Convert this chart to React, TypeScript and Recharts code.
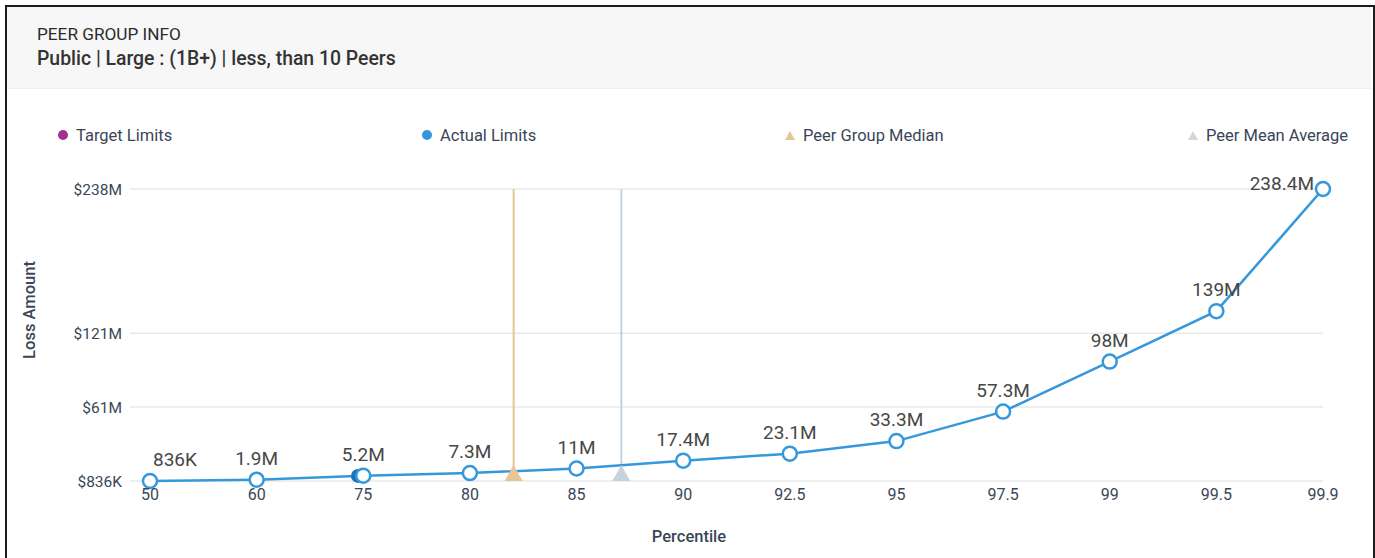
import React from "react";
import {
  ComposedChart,
  Line,
  Scatter,
  XAxis,
  YAxis,
  CartesianGrid,
  ReferenceLine,
  LabelList,
} from "recharts";

const percentiles = ["50", "60", "75", "80", "85", "90", "92.5", "95", "97.5", "99", "99.5", "99.9"];
const lossValues = [
  836000, 1900000, 5200000, 7300000, 11000000, 17400000, 23100000, 33300000, 57300000, 98000000,
  139000000, 238400000,
];
const yTicks = [836000, 61000000, 121000000, 238400000];

// positions on the percentile index scale (0 = 50th ... 11 = 99.9th)
const actualLimits = [{ pos: 1.95, value: 5000000 }];
const peerMedian = [{ pos: 3.41, value: 836000 }];
const peerMean = [{ pos: 4.42, value: 836000 }];

const BLUE = "#3598db";
const TAN = "#e6c697";
const GREYBLUE = "#c6d3df";
const TEXT = "#3a4657";

const rows = lossValues.map((value, i) => ({ pos: i, value }));

function shortValue(v: number) {
  if (v < 1e6) return `${Math.round(v / 1000)}K`;
  return `${+(v / 1e6).toFixed(1)}M`;
}

function yTick(v: number) {
  if (v < 1e6) return `$${Math.round(v / 1000)}K`;
  return `$${Math.round(v / 1e6)}M`;
}

function PointLabel(props: any) {
  const { x, y, value, index } = props;
  const last = index === lossValues.length - 1;
  let anchor: "middle" | "start" | "end" = "middle";
  let tx = x;
  let ty = y - 15;
  if (index === 0) {
    anchor = "start";
    tx = x + 3;
  }
  if (last) {
    anchor = "end";
    tx = x - 9;
    ty = y + 1;
  }
  return (
    <text x={tx} y={ty} textAnchor={anchor} fontSize={19} fill="#474747" fontFamily="Roboto">
      {shortValue(value)}
    </text>
  );
}

function triangle(color: string) {
  return (p: any) => (
    <polygon
      points={`${p.cx - 9},${p.cy} ${p.cx + 9},${p.cy} ${p.cx},${p.cy - 16}`}
      fill={color}
    />
  );
}

function LegendItem({ x, kind, color, label }: { x: number; kind: "dot" | "tri"; color: string; label: string }) {
  return (
    <div style={{ position: "absolute", left: x, top: 125, height: 20, display: "flex", alignItems: "center" }}>
      {kind === "dot" ? (
        <span style={{ width: 10, height: 10, borderRadius: 5, background: color, display: "inline-block" }} />
      ) : (
        <span
          style={{
            width: 0,
            height: 0,
            borderLeft: "5px solid transparent",
            borderRight: "5px solid transparent",
            borderBottom: `9px solid ${color}`,
            display: "inline-block",
          }}
        />
      )}
      <span style={{ marginLeft: 8, fontSize: 16.5, color: TEXT }}>{label}</span>
    </div>
  );
}

export default function App() {
  return (
    <div
      style={{
        position: "absolute",
        left: 0,
        top: 0,
        width: 1375,
        height: 558,
        background: "#fff",
        fontFamily: "Roboto, sans-serif",
        overflow: "hidden",
      }}
    >
      <div
        style={{
          position: "absolute",
          left: 5,
          top: 5,
          width: 1366,
          height: 580,
          border: "2px solid #1c1c1c",
        }}
      />
      <div
        style={{
          position: "absolute",
          left: 7,
          top: 7,
          width: 1364,
          height: 81,
          background: "#f7f7f7",
          borderBottom: "1px solid #efefef",
        }}
      />
      <div style={{ position: "absolute", left: 37, top: 24, fontSize: 17.2, color: "#2b2b2b" }}>PEER GROUP INFO</div>
      <div style={{ position: "absolute", left: 37, top: 47, fontSize: 19.4, fontWeight: 500, color: "#333" }}>
        Public | Large : (1B+) | less, than 10 Peers
      </div>

      <LegendItem x={58} kind="dot" color="#a3318f" label="Target Limits" />
      <LegendItem x={422} kind="dot" color={BLUE} label="Actual Limits" />
      <LegendItem x={785} kind="tri" color={TAN} label="Peer Group Median" />
      <LegendItem x={1188} kind="tri" color="#d3d6da" label="Peer Mean Average" />

      <div
        style={{
          position: "absolute",
          left: 29,
          top: 310,
          transform: "translate(-50%, -50%) rotate(-90deg)",
          fontSize: 16.5,
          fontWeight: 500,
          color: TEXT,
          whiteSpace: "nowrap",
        }}
      >
        Loss Amount
      </div>
      <div
        style={{
          position: "absolute",
          left: 689,
          top: 536,
          transform: "translate(-50%, -50%)",
          fontSize: 16.5,
          fontWeight: 500,
          color: TEXT,
        }}
      >
        Percentile
      </div>

      <div style={{ position: "absolute", left: 0, top: 0 }}>
        <ComposedChart
          width={1375}
          height={558}
          data={rows}
          margin={{ top: 189, right: 52, bottom: 47, left: 30 }}
        >
          <CartesianGrid vertical={false} stroke="#e9e9e9" strokeWidth={1.5} />
          <XAxis
            dataKey="pos"
            type="number"
            domain={[0, 11]}
            ticks={percentiles.map((_, i) => i)}
            tickFormatter={(i: number) => percentiles[i]}
            padding={{ left: 20, right: 0 }}
            height={30}
            tick={{ fontSize: 16, fill: TEXT, fontFamily: "Roboto" }}
            tickLine={false}
            axisLine={false}
            interval={0}
          />
          <YAxis
            type="number"
            domain={[836000, 238400000]}
            ticks={yTicks}
            tickFormatter={yTick}
            width={100}
            tick={{ fontSize: 15.5, fill: TEXT, fontFamily: "Roboto" }}
            tickLine={false}
            axisLine={false}
          />
          <ReferenceLine x={peerMedian[0].pos} stroke={TAN} strokeWidth={2} />
          <ReferenceLine x={peerMean[0].pos} stroke={GREYBLUE} strokeWidth={2} />
          <Scatter data={peerMedian} dataKey="value" shape={triangle(TAN)} isAnimationActive={false} />
          <Scatter data={peerMean} dataKey="value" shape={triangle(GREYBLUE)} isAnimationActive={false} />
          <Scatter
            data={actualLimits}
            dataKey="value"
            shape={(p: any) => <circle cx={p.cx} cy={p.cy} r={7} fill="#1a74bb" />}
            isAnimationActive={false}
          />
          <Line
            dataKey="value"
            stroke={BLUE}
            strokeWidth={2.5}
            dot={{ r: 7, fill: "#fff", stroke: BLUE, strokeWidth: 2.5 }}
            activeDot={false}
            isAnimationActive={false}
          >
            <LabelList dataKey="value" content={PointLabel} />
          </Line>
        </ComposedChart>
      </div>
    </div>
  );
}
